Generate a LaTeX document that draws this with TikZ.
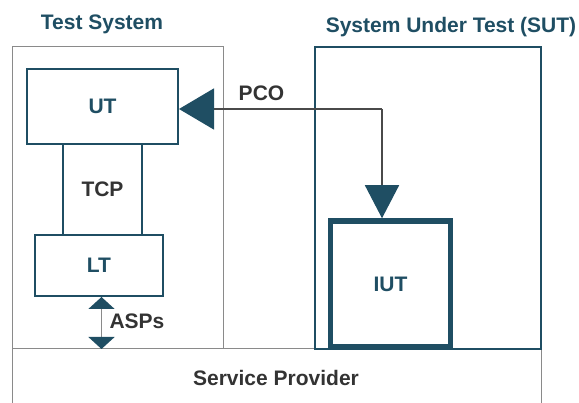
\documentclass[tikz,border=0pt]{standalone}
\usepackage{fontspec}
\setmainfont{Liberation Sans}
\usetikzlibrary{arrows.meta}

\definecolor{deepteal}{HTML}{1F4E63}
\definecolor{textgray}{HTML}{333333}
\definecolor{framegray}{HTML}{8A8A8A}
\definecolor{linegray}{HTML}{4A4A4A}

\tikzset{
	frame/.style={draw=framegray, line width=1pt, inner sep=0pt},
	unit/.style={draw=deepteal, line width=2pt, text=deepteal, inner sep=0pt},
	txt/.style={text=textgray, inner sep=0pt},
	title/.style={text=deepteal, inner sep=0pt, anchor=base},
}

\begin{document}
\begin{tikzpicture}[x=1pt, y=-1pt, font=\fontsize{21}{25}\selectfont\bfseries]
	\useasboundingbox (0,0) rectangle (579,403);

	%服务提供者
	\draw [framegray, line width=1pt] (12,410) |- (541,349) -- (541,410);
	\node [txt] (SP) at (276,378) {Service Provider};

	%测试系统
	\node [frame, minimum width=211pt, minimum height=302pt] (TS) at (117.5,198) {};
	\node [title] (TSname) at (102,30) {Test System};
	\node [unit, minimum width=151pt, minimum height=75pt] (UT) at (102.5,106.5) {UT};
	\node [unit, text=textgray, minimum width=79pt, minimum height=91pt] (TCP) at (102.5,189.5) {TCP};
	\node [unit, minimum width=128pt, minimum height=61pt] (LT) at (99,265.5) {LT};

	%被测系统
	\node [unit, minimum width=226pt, minimum height=302pt] (SUT) at (428,198) {};
	\node [title] (SUTname) at (451,33) {System Under Test (SUT)};
	\node [unit, line width=5.5pt, minimum width=120pt, minimum height=126pt] (IUT) at (390.5,284) {IUT};

	%控制观察点
	\coordinate (corner) at (382,109);
	\draw [linegray, line width=1.5pt, -{Triangle[length=35pt, width=41pt, color=deepteal]}]
		(corner) -- (corner -| UT.east);
	\draw [linegray, line width=1.5pt, -{Triangle[length=33pt, width=34pt, color=deepteal]}]
		(corner) -- (corner |- IUT.north);
	\node [txt] (PCO) at (261.5,93) {PCO};

	%抽象服务原语
	\coordinate (aspbot) at (101.5,349);
	\draw [framegray, line width=1.5pt,
		{Triangle[length=12pt, width=26pt, color=deepteal]}-{Triangle[length=12pt, width=26pt, color=deepteal]}]
		(aspbot |- LT.south) -- (aspbot);
	\node [txt] (ASP) at (137,321) {ASPs};
\end{tikzpicture}
\end{document}
